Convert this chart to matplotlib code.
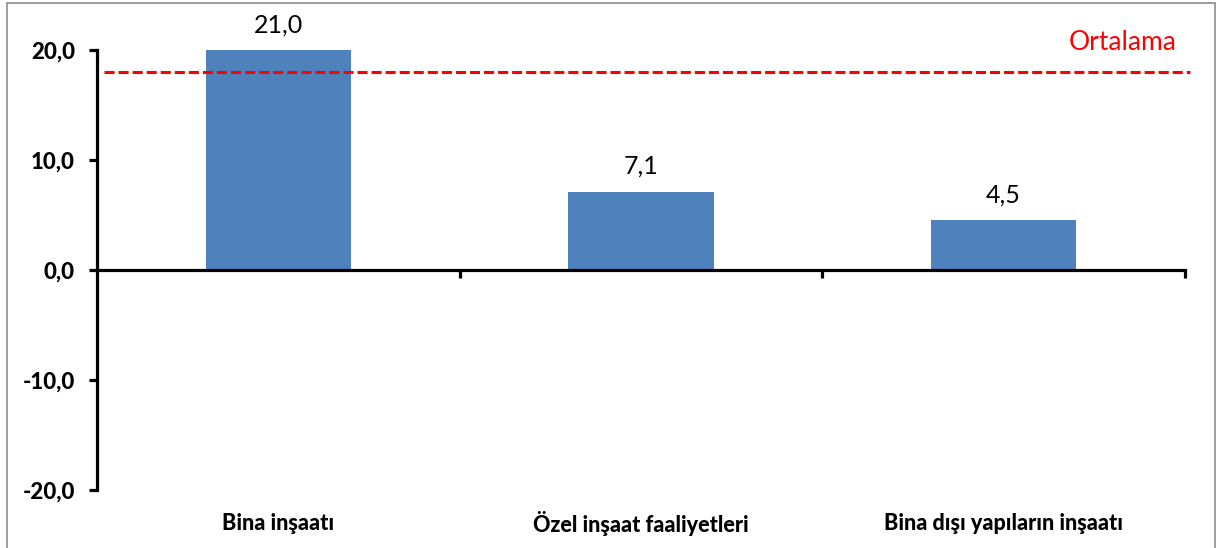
import matplotlib.pyplot as plt
import matplotlib.patches as mpatches
import matplotlib.transforms as mtransforms

# veriler
kategoriler = ["Bina inşaatı", "Özel inşaat faaliyetleri", "Bina dışı yapıların inşaatı"]
degerler = [21.0, 7.1, 4.5]
ortalama = 18.0
ortalama_etiket = "Ortalama"
y_ticks = [-20, -10, 0, 10, 20]

plt.rcParams["font.family"] = ["Lato", "DejaVu Sans"]

fig = plt.figure(figsize=(12.17, 5.48), dpi=100)
ax = fig.add_axes([0.0797, 0.1058, 0.8940, 0.8030])

x = list(range(len(kategoriler)))
ax.bar(x, degerler, width=0.4, color="#4F81BD", zorder=2)

ax.set_xlim(-0.5, len(kategoriler) - 0.5)
ax.set_ylim(-20, 20)

# ortalama cizgisi
ax.hlines(ortalama, -0.48, 2.515, colors="#FF0000", linewidth=2.2,
          linestyles=(0, (3.3, 1.3)), zorder=3, clip_on=False)
fig.text(0.967, 0.922, ortalama_etiket, color="#FF0000", fontsize=19,
         ha="right", va="center")

# deger etiketleri
for xi, v in zip(x, degerler):
    ax.annotate(f"{v:.1f}".replace(".", ","), (xi, min(v, 20)),
                xytext=(0, 10), textcoords="offset points",
                ha="center", va="bottom", fontsize=18, annotation_clip=False)

# eksenler
for s in ["top", "right"]:
    ax.spines[s].set_visible(False)
ax.spines["bottom"].set_position(("data", 0))
ax.spines["bottom"].set_linewidth(2.3)
ax.spines["left"].set_linewidth(2.3)
ax.spines["bottom"].set_zorder(4)

ax.set_yticks(y_ticks)
ax.set_yticklabels([f"{t:.1f}".replace(".", ",") for t in y_ticks],
                   fontsize=16, fontweight="black")
ax.tick_params(axis="y", direction="out", length=6, width=2.3, pad=10)

ax.set_xticks([])
ax.set_xticks([0.5, 1.5, 2.5], minor=True)
ax.tick_params(axis="x", which="minor", direction="out", length=6, width=2.3,
               labelbottom=False)

# kategori etiketleri
trans = mtransforms.blended_transform_factory(ax.transData, ax.transAxes)
for xi, lab in zip(x, kategoriler):
    ax.text(xi, -0.075, lab, transform=trans, ha="center", va="center",
            fontsize=15.5, fontweight="black")

# cerceve
fig.patches.append(mpatches.Rectangle((0.0058, -0.01), 0.9925, 1.0045,
                                      transform=fig.transFigure, fill=False,
                                      edgecolor="#8C8C8C", linewidth=1.2))

fig.savefig("out.png", dpi=100)
